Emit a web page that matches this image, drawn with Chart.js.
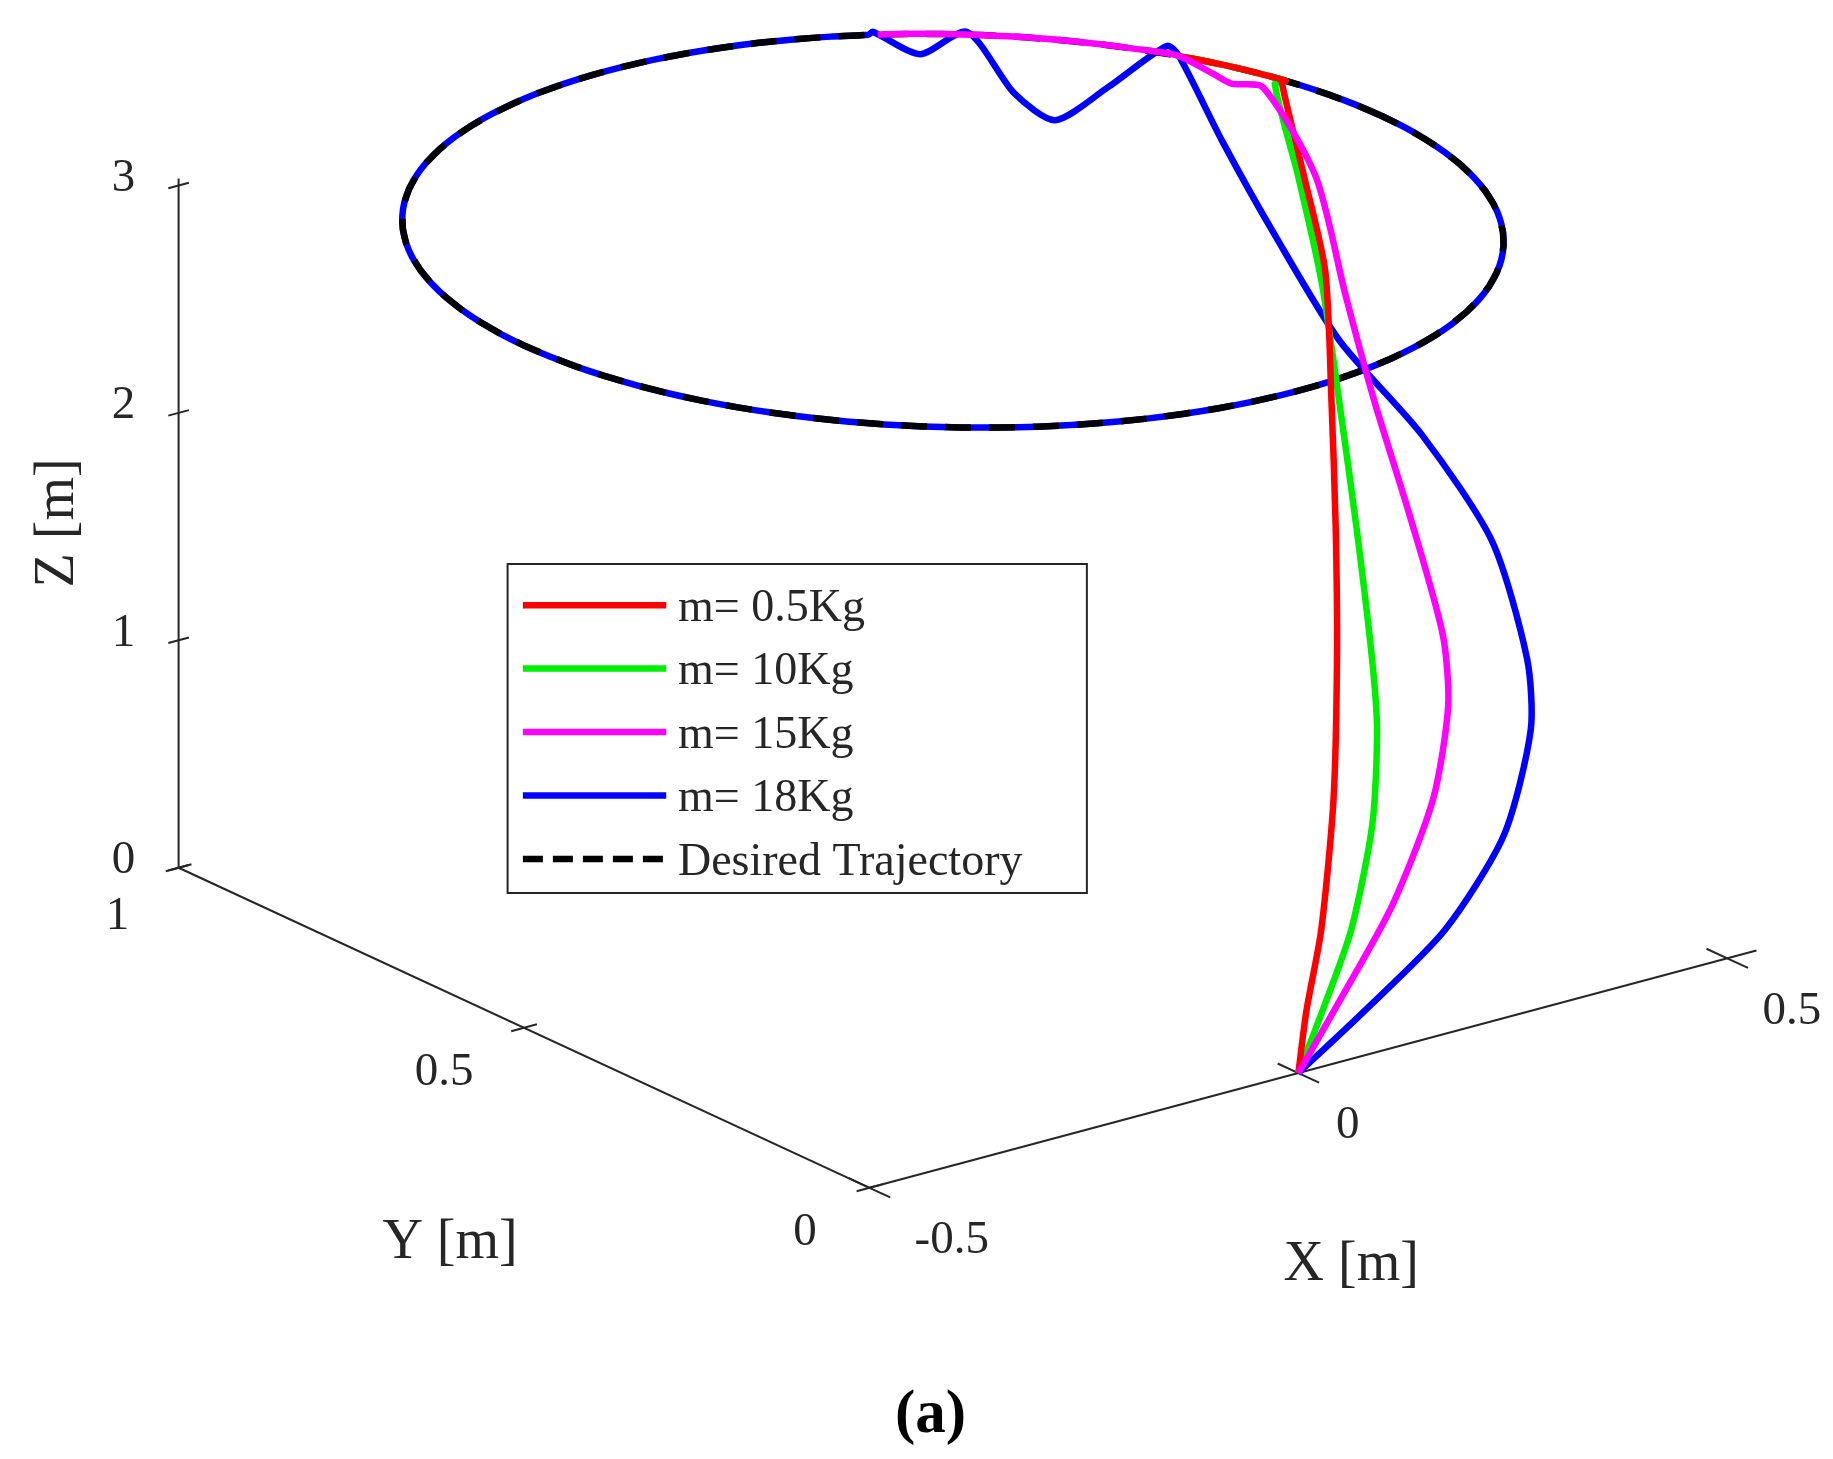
<!DOCTYPE html>
<html><head><meta charset="utf-8">
<script src="https://cdn.jsdelivr.net/npm/chart.js@4"></script>
<style>html,body{margin:0;padding:0;background:#fff}canvas{display:block}</style>
</head><body>
<canvas id="c" width="1833" height="1459"></canvas>
<script>
// 3D data (metres)
const redX=[0,0.039,0.096,0.173,0.248,0.311,0.372,0.430,0.456,0.48];
const redY=[0,0.037,0.086,0.164,0.252,0.332,0.414,0.495,0.558,0.62];
const redZ=[0,0.178,0.414,0.794,1.217,1.608,2.002,2.397,2.699,3];
const greenX=[0,0.055,0.127,0.2015,0.2536,0.284,0.333,0.380,0.421,0.450,0.472];
const greenY=[0,0.034,0.081,0.143,0.201,0.246,0.329,0.413,0.489,0.559,0.62];
const greenZ=[0,0.166,0.390,0.692,0.972,1.189,1.592,1.996,2.365,2.703,3];
const magX=[0,0.0785,0.181,0.276,0.339,0.369,0.394,0.416,0.439,0.468,0.458,0.4405,0.4425];
const magY=[0,0.038,0.089,0.148,0.204,0.249,0.327,0.407,0.477,0.556,0.62,0.6438,0.6718];
const magZ=[0,0.1833,0.4285,0.714,0.986,1.203,1.584,1.967,2.309,2.688,3,3,3];
const blueX=[0,0.0998,0.229,0.342,0.428,0.464,0.494,0.482,0.451,0.444,0.443,0.4465,0.4528,0.3437,0.252,0.2648,0.3277,0.2573,0.2582];
const blueY=[0,0.030,0.072,0.127,0.195,0.245,0.333,0.419,0.500,0.585,0.660,0.7277,0.7526,0.7022,0.6649,0.7403,0.8864,0.867,0.9362];
const blueZ=[0,0.125,0.298,0.523,0.804,1.008,1.372,1.728,2.060,2.412,2.721,3,3,3,3,3,3,3,3];
// desired circle
const circleCenter=[0,0.5,3], circleRadius=0.5;
const circleAngles=[];for(let a=0;a<=360;a+=4)circleAngles.push(a);
const redArcAngles=[14,18,22,27];
const magArcAngles=[27,32,38,44,50,55,59];
const blueArcAngles=[];for(let a=60;a<=376;a+=4)blueArcAngles.push(a);
const zTicks=[0,1,2,3], yTicks=[0,0.5,1], xTicks=[-0.5,0,0.5];
const legendLabels=['m= 0.5Kg','m= 10Kg','m= 15Kg','m= 18Kg','Desired Trajectory'];

function proj(X,Y,Z){return {x:730*X-588*Y, y:195*X+272*Y+193.3*Z};}
function path(xs,ys,zs){return xs.map((x,i)=>proj(x,ys[i],zs[i]));}
function arc(angles){return angles.map(a=>{const t=a*Math.PI/180;return proj(circleCenter[0]+circleRadius*Math.cos(t),circleCenter[1]+circleRadius*Math.sin(t),circleCenter[2]);});}

const S=1833/1560;
const ds=(data,color,order,extra)=>Object.assign({data,borderColor:color,borderWidth:6.5,showLine:true,pointRadius:0,tension:0.25,fill:false,order},extra||{});
const datasets=[
 ds(path(redX,redY,redZ).concat(arc(redArcAngles)),'#ff0000',2),
 ds(path(greenX,greenY,greenZ).concat(arc(redArcAngles)),'#00ee00',3),
 ds(path(magX,magY,magZ).concat(arc(magArcAngles)),'#ff00ff',1),
 ds(path(blueX,blueY,blueZ).concat(arc(blueArcAngles)),'#0000ff',5),
 ds(arc(circleAngles),'#000000',4,{borderDash:[26,18],tension:0})
];
const colors=['#ff0000','#00ee00','#ff00ff','#0000ff','#000000'];

const deco={id:'deco',
 beforeDatasetsDraw(c){const ctx=c.ctx,xs=c.scales.x,ys=c.scales.y;
  const P=(X,Y,Z)=>{const p=proj(X,Y,Z);return [xs.getPixelForValue(p.x),ys.getPixelForValue(p.y)];};
  const seg=(a,b)=>{ctx.beginPath();ctx.moveTo(a[0],a[1]);ctx.lineTo(b[0],b[1]);ctx.stroke();};
  ctx.save();ctx.strokeStyle='#262626';ctx.lineWidth=2;
  seg(P(-0.5,1,0),P(-0.5,1,3.03));
  seg(P(-0.5,0,0),P(-0.5,1,0));
  seg(P(-0.5,0,0),P(0.534,0,0));
  zTicks.forEach(z=>seg(P(-0.5,1,z),P(-0.488,1,z)));
  zTicks.forEach(z=>seg(P(-0.5,1,z),P(-0.512,1,z)));
  yTicks.forEach(y=>seg(P(-0.5,y,0),P(-0.485,y,0)));
  yTicks.forEach(y=>seg(P(-0.5,y,0),P(-0.515,y,0)));
  xTicks.forEach(x=>seg(P(x,0,0),P(x,0.03,0)));
  xTicks.forEach(x=>seg(P(x,0,0),P(x,-0.03,0)));
  ctx.fillStyle='#262626';ctx.font=Math.round(40*S)+'px "Liberation Serif"';ctx.textAlign='center';ctx.textBaseline='middle';
  zTicks.forEach(z=>{const p=P(-0.5,1,z);ctx.fillText(String(z),p[0]-47*S,p[1]-6*S);});
  yTicks.forEach((y,i)=>{const p=P(-0.5,y,0);const off=[[-55,38],[-68,38],[-52,42]][i];ctx.fillText(String(y),p[0]+off[0]*S,p[1]+off[1]*S);});
  xTicks.forEach((x,i)=>{const p=P(x,0,0);const off=[[70,45],[42,45],[55,45]][i];ctx.fillText(String(x),p[0]+off[0]*S,p[1]+off[1]*S);});
  ctx.font=Math.round(48*S)+'px "Liberation Serif"';
  ctx.fillText('Y [m]',383*S,1058*S);ctx.fillText('X [m]',1150*S,1077*S);
  ctx.save();ctx.translate(50*S,445*S);ctx.rotate(-Math.PI/2);ctx.fillText('Z [m]',0,0);ctx.restore();
  ctx.fillStyle='#000';ctx.font='bold '+Math.round(52*S)+'px "Liberation Serif"';ctx.fillText('(a)',792*S,1205*S);
  ctx.restore();},
 afterDatasetsDraw(c){const ctx=c.ctx;ctx.save();
  ctx.fillStyle='#fff';ctx.fillRect(432*S,480*S,493*S,280*S);
  ctx.strokeStyle='#262626';ctx.lineWidth=2;ctx.strokeRect(432*S,480*S,493*S,280*S);
  ctx.font=Math.round(39*S)+'px "Liberation Serif"';ctx.textBaseline='middle';ctx.fillStyle='#262626';
  legendLabels.forEach((l,i)=>{const y=(515+54*i)*S;ctx.strokeStyle=colors[i];ctx.lineWidth=6.5;ctx.setLineDash(i==4?[20,10]:[]);
   ctx.beginPath();ctx.moveTo(445*S,y);ctx.lineTo(567*S,y);ctx.stroke();ctx.setLineDash([]);ctx.fillText(l,577*S,y+3*S);});
  ctx.restore();}};

new Chart(document.getElementById('c'),{type:'scatter',data:{datasets},
 options:{responsive:false,animation:false,devicePixelRatio:1,layout:{padding:0},
  plugins:{legend:{display:false},tooltip:{enabled:false}},
  scales:{x:{type:'linear',min:-1105,max:455,display:false},y:{type:'linear',min:-328,max:912,display:false}}},
 plugins:[deco]});
</script></body></html>
